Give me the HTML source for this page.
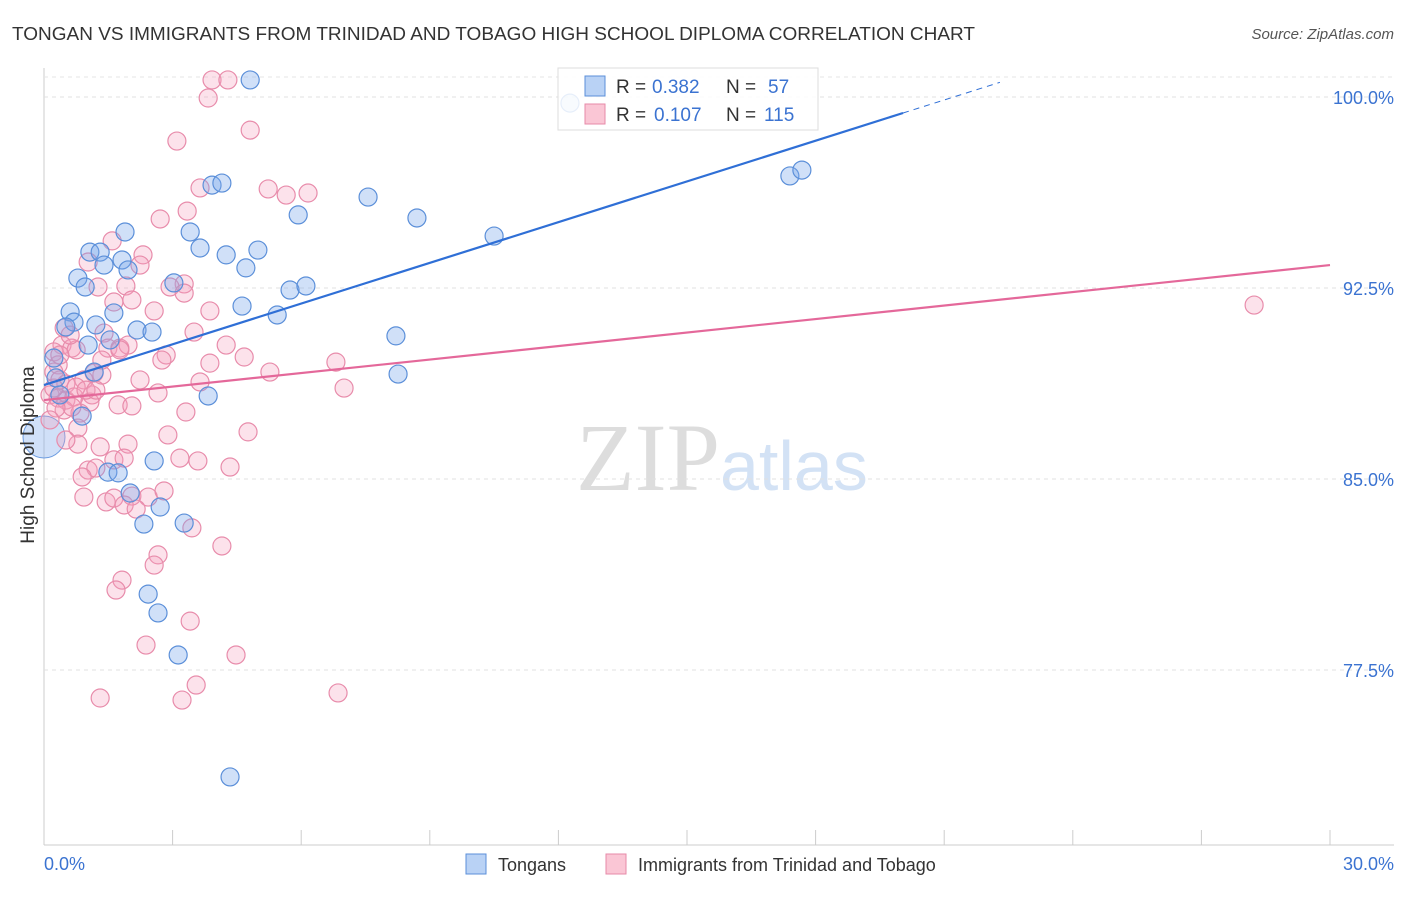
<!DOCTYPE html>
<html><head><meta charset="utf-8"><style>
body{margin:0;background:#fff;font-family:"Liberation Sans",sans-serif}
svg text{font-family:"Liberation Sans",sans-serif}
</style></head><body>
<svg id="c" width="1406" height="892">
<text x="12" y="40" font-size="18" fill="#333" textLength="963" lengthAdjust="spacingAndGlyphs">TONGAN VS IMMIGRANTS FROM TRINIDAD AND TOBAGO HIGH SCHOOL DIPLOMA CORRELATION CHART</text>
<text x="1394" y="39" font-size="15" fill="#555" text-anchor="end" font-style="italic">Source: ZipAtlas.com</text>
<text x="720" y="490" font-size="96" fill="#ddd" text-anchor="end" style="font-family:'Liberation Serif',serif">ZIP</text>
<text x="720" y="490" font-size="70" fill="#d3e2f5">atlas</text>
<g id="grid"></g><g id="pts"></g><g id="lines"></g>
<text transform="translate(34,455) rotate(-90)" font-size="19" fill="#333" text-anchor="middle">High School Diploma</text>
<text x="44" y="870" font-size="18" fill="#3b73d1">0.0%</text>
<text x="1394" y="870" font-size="18" fill="#3b73d1" text-anchor="end">30.0%</text>
<g>
<rect x="558" y="68" width="260" height="62" fill="rgba(255,255,255,0.85)" stroke="#ddd"/>
<rect x="585" y="76" width="20" height="20" fill="#b9d2f5" stroke="#5b8fd9"/>
<rect x="585" y="104" width="20" height="20" fill="#fac6d5" stroke="#e78aa8"/>
<text x="616" y="93" font-size="19" fill="#333">R =</text>
<text x="652" y="93" font-size="19" fill="#3b73d1">0.382</text>
<text x="726" y="93" font-size="19" fill="#333">N =</text>
<text x="768" y="93" font-size="19" fill="#3b73d1">57</text>
<text x="616" y="121" font-size="19" fill="#333">R =</text>
<text x="654" y="121" font-size="19" fill="#3b73d1">0.107</text>
<text x="726" y="121" font-size="19" fill="#333">N =</text>
<text x="764" y="121" font-size="19" fill="#3b73d1">115</text>
</g>
<g>
<rect x="466" y="854" width="20" height="20" fill="#b9d2f5" stroke="#5b8fd9"/>
<text x="498" y="871" font-size="18" fill="#333">Tongans</text>
<rect x="606" y="854" width="20" height="20" fill="#fac6d5" stroke="#e78aa8"/>
<text x="638" y="871" font-size="18" fill="#333">Immigrants from Trinidad and Tobago</text>
</g>
</svg>
<script>
const yTicks=[100,92.5,85,77.5];
const yTickLabels=["100.0%","92.5%","85.0%","77.5%"];
const bluePx=[[250,80],[570,103],[212,185],[222,183],[125,232],[90,252],[100,252],[104,265],[122,260],[128,270],[78,278],[85,287],[190,232],[200,248],[226,255],[258,250],[246,268],[298,215],[368,197],[417,218],[494,236],[790,176],[802,170],[174,283],[70,312],[74,322],[66,327],[96,325],[114,313],[137,330],[152,332],[242,306],[290,290],[306,286],[277,315],[396,336],[398,374],[88,345],[110,340],[54,358],[56,378],[60,395],[94,372],[208,396],[82,416],[154,461],[108,472],[118,473],[130,493],[160,507],[144,524],[184,523],[148,594],[158,613],[178,655],[230,777]];
const pinkPx=[[212,80],[228,80],[208,98],[250,130],[177,141],[200,188],[187,211],[160,219],[268,189],[286,195],[308,193],[112,241],[143,255],[88,262],[140,265],[184,284],[170,287],[98,287],[126,286],[184,293],[132,300],[114,302],[154,311],[210,311],[64,328],[104,333],[194,332],[226,345],[62,345],[72,348],[76,350],[108,348],[120,348],[128,345],[166,355],[162,360],[210,363],[244,357],[336,362],[54,352],[58,365],[54,372],[60,380],[66,384],[94,373],[102,375],[200,382],[270,372],[344,388],[158,393],[50,395],[58,398],[66,400],[74,397],[92,395],[90,402],[118,405],[132,406],[186,412],[64,410],[80,413],[78,428],[248,432],[168,435],[78,444],[100,447],[128,444],[88,470],[96,468],[180,458],[198,461],[230,467],[82,477],[114,460],[124,458],[84,497],[106,502],[114,498],[132,496],[148,497],[164,491],[124,505],[136,509],[192,528],[222,546],[158,555],[154,565],[122,580],[116,590],[190,621],[146,645],[236,655],[196,685],[100,698],[182,700],[338,693],[1254,305],[84,380],[76,387],[86,390],[96,390],[72,407],[56,408],[66,440],[120,350],[140,380],[70,335],[102,360],[50,420],[60,355],[54,388]];
const pxToX=p=>(p-44)/1286*30, pxToY=p=>100-(p-97)/191*7.5;
const blueX=bluePx.map(p=>+pxToX(p[0]).toFixed(2)), blueY=bluePx.map(p=>+pxToY(p[1]).toFixed(2));
const pinkX=pinkPx.map(p=>+pxToX(p[0]).toFixed(2)), pinkY=pinkPx.map(p=>+pxToY(p[1]).toFixed(2));
const blueTrend=[88.69,0.533], pinkTrend=[88.10,0.1767];
const X=v=>44+v/30*1286, Y=v=>97+(100-v)/7.5*191;
const NS="http://www.w3.org/2000/svg";
function mk(tag,attrs,parent){const e=document.createElementNS(NS,tag);for(const k in attrs)e.setAttribute(k,attrs[k]);parent.appendChild(e);return e;}
const grid=document.getElementById('grid');
mk('line',{x1:44,y1:68,x2:44,y2:845,stroke:'#ccc'},grid);
mk('line',{x1:44,y1:845,x2:1394,y2:845,stroke:'#ccc'},grid);
mk('line',{x1:44,y1:77,x2:1394,y2:77,stroke:'#e6e6e6','stroke-dasharray':'4,4'},grid);
yTicks.forEach((t,i)=>{
 const l=mk('line',{x1:44,y1:Y(t),x2:1394,y2:Y(t),stroke:'#e0e0e0','stroke-dasharray':'4,4'},grid);
 
 
 const tx=mk('text',{x:1394,y:Y(t)+7,'font-size':18,fill:'#3b73d1','text-anchor':'end'},grid);
 tx.textContent=yTickLabels[i];
 
 
});
for(let i=1;i<=10;i++){const l=mk('line',{x1:X(i*3),y1:830,x2:X(i*3),y2:845,stroke:'#ccc'},grid);
 
 }
const pts=document.getElementById('pts');
const b0=mk('circle',{cx:X(0),cy:Y(86.65),r:21,fill:'rgba(120,165,235,0.35)',stroke:'#6b9be0'},pts);


pinkX.forEach((x,i)=>{const c=mk('circle',{cx:X(x),cy:Y(pinkY[i]),r:9,fill:'rgba(245,160,190,0.3)',stroke:'#e88cab','stroke-width':1.2},pts);
 
 });
blueX.forEach((x,i)=>{const c=mk('circle',{cx:X(x),cy:Y(blueY[i]),r:9,fill:'rgba(120,165,235,0.35)',stroke:'#5b8fd9','stroke-width':1.2},pts);
 
 });
const lines=document.getElementById('lines');
const f=(t,x)=>t[0]+t[1]*x;
let l1=mk('line',{x1:X(0),y1:Y(f(blueTrend,0)),x2:X(20.04),y2:Y(f(blueTrend,20.04)),stroke:'#2f6fd6','stroke-width':2.2},lines);


let l2=mk('line',{x1:X(20.04),y1:Y(f(blueTrend,20.04)),x2:X(22.3),y2:Y(f(blueTrend,22.3)),stroke:'#2f6fd6','stroke-width':1,'stroke-dasharray':'6,5'},lines);


let l3=mk('line',{x1:X(0),y1:Y(f(pinkTrend,0)),x2:X(30),y2:Y(f(pinkTrend,30)),stroke:'#e4689a','stroke-width':2.2},lines);


</script>
</body></html>
